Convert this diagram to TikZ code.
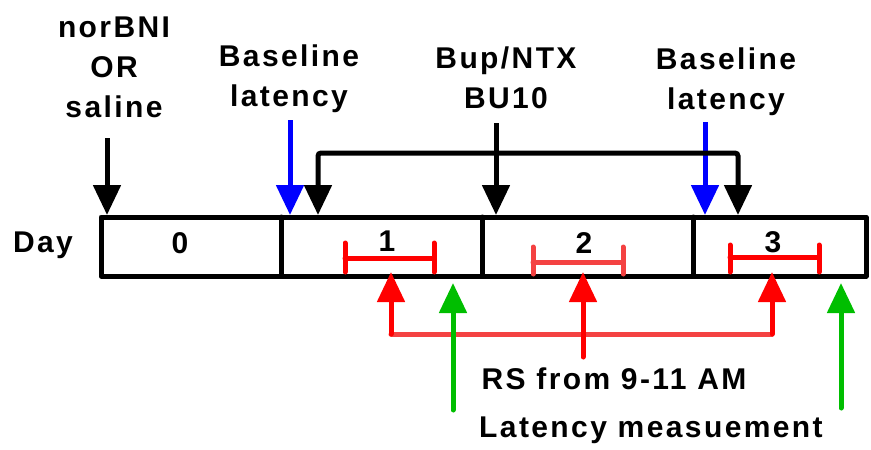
\documentclass[tikz,border=0pt]{standalone}
\usepackage{fontspec}
\setmainfont{Liberation Sans}
\newfontfamily\lblfont[LetterSpace=8]{Liberation Sans}
\usetikzlibrary{arrows.meta,positioning}

\definecolor{rsred}{RGB}{255,0,0}
\definecolor{rslight}{RGB}{244,66,66}
\definecolor{blblue}{RGB}{0,0,255}
\definecolor{latgreen}{RGB}{0,190,0}

\begin{document}
\begin{tikzpicture}[
    x=1pt, y=-1pt,
    lbl/.style={font=\lblfont\fontsize{30}{40}\selectfont\bfseries, align=center, inner sep=0pt},
    arr/.style={-{Triangle[length=30pt, width=27pt]}, line width=5pt},
    bar/.style={line width=5pt, line cap=round},
    daybox/.style={line width=5pt, line join=round}
  ]
  \useasboundingbox (0,0) rectangle (871,450);

  %% Timeline
  \draw[daybox] (101,217) rectangle (866,276);
  \draw[bar] (281,217) -- (281,276);
  \draw[bar] (482,217) -- (482,276);
  \draw[bar] (693,217) -- (693,276);

  \node[lbl] (day)  at (43,245)  {Day};
  \node[lbl] (d0)   at (180,243) {0};
  \node[lbl] (d1)   at (387,241) {1};
  \node[lbl] (d2)   at (584,243) {2};
  \node[lbl] (d3)   at (773,242) {3};

  %% RS windows
  \draw[bar, rsred]   (345,243) -- (345,272) (345,258) -- (434,258) (434,243) -- (434,272);
  \draw[bar, rslight] (533,247) -- (533,274) (533,262) -- (623,262) (623,247) -- (623,274);
  \draw[bar, rsred]   (730,245) -- (730,272) (730,257) -- (819,257) (819,245) -- (819,272);

  %% Top labels
  \node[lbl] (nor)  at (114,67) {norBNI\\OR\\saline};
  \node[lbl] (bl1)  at (289,79) {Baseline\\latency};
  \node[lbl] (bup)  at (506,78) {Bup/NTX\\BU10};
  \node[lbl] (bl2)  at (726,82) {Baseline\\latency};

  %% Arrow ends
  \coordinate (norTail) at (107,138);
  \coordinate (norTip)  at (107,215);
  \coordinate (bl1Tail) at (290,120);
  \coordinate (bl1Tip)  at (290,215);
  \coordinate (bupTail) at (496,123);
  \coordinate (bupTip)  at (496,215);
  \coordinate (bl2Tail) at (705,122);
  \coordinate (bl2Tip)  at (705,215);
  \coordinate (bu1Tip)  at (318,215);
  \coordinate (bu3Tip)  at (738,215);

  \draw[arr] (norTail) -- (norTip);
  \draw[arr, blblue] (bl1Tail) -- (bl1Tip);
  \draw[arr, blblue] (bl2Tail) -- (bl2Tip);
  \draw[arr, {Triangle[length=30pt, width=27pt]}-{Triangle[length=30pt, width=27pt]}, rounded corners=3pt]
    (bu1Tip) -- (318,153) -- (738,153) -- (bu3Tip);
  \draw[arr] (bupTail) -- (bupTip);

  %% Bottom labels
  \node[lbl] (rs)  at (614,379) {RS from 9-11 AM};
  \node[lbl] (lat) at (651,430) {Latency measuement};

  %% RS arrows
  \coordinate (rs1Tail) at (391,334);
  \coordinate (rs1Tip)  at (391,272);
  \coordinate (rs2Tail) at (583,357);
  \coordinate (rs2Tip)  at (583,272);
  \coordinate (rs3Tail) at (772,334);
  \coordinate (rs3Tip)  at (772,272);
  \draw[bar, rslight] (rs1Tail) -- (rs3Tail);
  \draw[arr, rsred, line cap=round] (rs1Tail) -- (rs1Tip);
  \draw[arr, rsred, line cap=round] (rs3Tail) -- (rs3Tip);
  \draw[arr, rsred, line cap=round] (rs2Tail) -- (rs2Tip);

  %% Latency arrows
  \coordinate (lat1Tail) at (453,410);
  \coordinate (lat1Tip)  at (453,283);
  \coordinate (lat2Tail) at (841,408);
  \coordinate (lat2Tip)  at (841,283);
  \draw[arr, latgreen, line cap=round] (lat1Tail) -- (lat1Tip);
  \draw[arr, latgreen, line cap=round] (lat2Tail) -- (lat2Tip);

\end{tikzpicture}
\end{document}
